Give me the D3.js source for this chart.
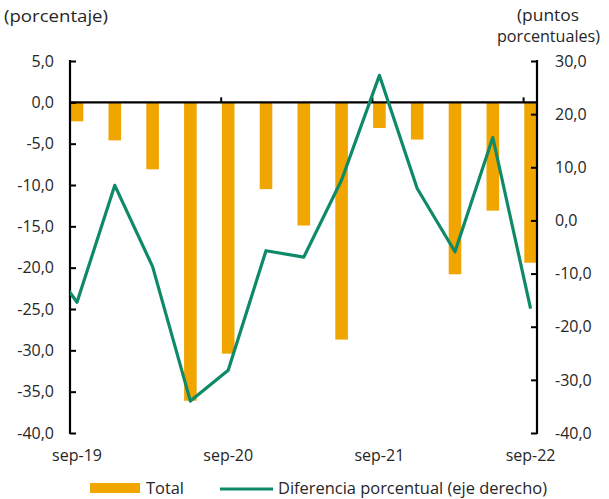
<!DOCTYPE html>
<html>
<head>
<meta charset="utf-8">
<script src="https://cdn.jsdelivr.net/npm/d3@7"></script>
<style>
  html, body { margin: 0; padding: 0; background: #ffffff; }
  svg { display: block; }
  text { font-family: "Open Sans", "Lato", sans-serif; fill: #262626; }
</style>
</head>
<body>
<div id="chart"></div>
<script>
// ---- data ----
const categories = ["sep-19","dic-19","mar-20","jun-20","sep-20","dic-20","mar-21","jun-21","sep-21","dic-21","mar-22","jun-22","sep-22"];
const totalValues = [-2.3, -4.6, -8.1, -36.1, -30.4, -10.5, -14.9, -28.7, -3.1, -4.5, -20.8, -13.1, -19.4];
const prevCategory = "jun-19";      // previous quarter, only partly visible at the left edge
const prevDiff = -5.5;
const diffValues = [-15.4, 6.6, -8.7, -34.0, -28.2, -5.7, -6.9, 7.6, 27.3, 6.0, -5.9, 15.6, -16.6];
const xTickLabels = ["sep-19","sep-20","sep-21","sep-22"];
const leftTicks = [5,0,-5,-10,-15,-20,-25,-30,-35,-40];
const rightTicks = [30,20,10,0,-10,-20,-30,-40];

// ---- layout ----
const W = 609, H = 499;
const plotLeft = 70, plotRight = 537, plotTop = 61, plotBottom = 433;
const barW = 12.6;
const FS = 16;

const svg = d3.select("#chart").append("svg").attr("width", W).attr("height", H);

const allCats = [prevCategory].concat(categories);
const x = d3.scalePoint().domain(allCats).range([77 - 37.8, 530.6]);
const yL = d3.scaleLinear().domain([-40, 5]).range([plotBottom, plotTop]);
const yR = d3.scaleLinear().domain([-40, 30]).range([plotBottom, plotTop]);
const fmt = v => d3.format(".1f")(v).replace(".", ",").replace("−", "-");

svg.append("defs").append("clipPath").attr("id", "plotClip")
  .append("rect").attr("x", plotLeft).attr("y", 0).attr("width", plotRight - plotLeft).attr("height", H);

// bars
svg.append("g").selectAll("rect").data(categories).join("rect")
  .attr("x", d => x(d) - barW / 2)
  .attr("y", (d, i) => yL(Math.max(0, totalValues[i])))
  .attr("width", barW)
  .attr("height", (d, i) => Math.abs(yL(totalValues[i]) - yL(0)))
  .attr("fill", "#F0A500");

// left axis
const gL = svg.append("g").attr("transform", `translate(${plotLeft},0)`)
  .call(d3.axisRight(yL).tickValues(leftTicks).tickSize(6).tickFormat(""));
gL.select(".domain").remove();
gL.selectAll(".tick line").attr("stroke", "#000").attr("stroke-width", 2);
svg.append("line").attr("x1", plotLeft).attr("x2", plotLeft).attr("y1", plotTop - 1).attr("y2", plotBottom + 1)
  .attr("stroke", "#000").attr("stroke-width", 2.2);
svg.append("g").selectAll("text").data(leftTicks).join("text")
  .attr("x", 54).attr("y", d => yL(d)).attr("dy", "0.36em")
  .attr("text-anchor", "end").attr("font-size", FS).text(fmt);

// right axis
const gR = svg.append("g").attr("transform", `translate(${plotRight},0)`)
  .call(d3.axisLeft(yR).tickValues(rightTicks).tickSize(6).tickFormat(""));
gR.select(".domain").remove();
gR.selectAll(".tick line").attr("stroke", "#000").attr("stroke-width", 2);
svg.append("line").attr("x1", plotRight).attr("x2", plotRight).attr("y1", plotTop - 1).attr("y2", plotBottom + 1)
  .attr("stroke", "#000").attr("stroke-width", 2.2);
svg.append("g").selectAll("text").data(rightTicks).join("text")
  .attr("x", 555).attr("y", d => yR(d)).attr("dy", "0.36em")
  .attr("text-anchor", "start").attr("font-size", FS).text(fmt);

// x axis at zero
svg.append("line").attr("x1", plotLeft).attr("x2", plotRight).attr("y1", yL(0)).attr("y2", yL(0))
  .attr("stroke", "#000").attr("stroke-width", 2.2);
svg.append("g").selectAll("line").data(xTickLabels.slice(1)).join("line")
  .attr("x1", d => x(d) - 7).attr("x2", d => x(d) - 7)
  .attr("y1", yL(0)).attr("y2", yL(0) - 5)
  .attr("stroke", "#000").attr("stroke-width", 2);
svg.append("g").selectAll("text").data(xTickLabels).join("text")
  .attr("x", d => x(d)).attr("y", 461)
  .attr("text-anchor", "middle").attr("font-size", FS).text(d => d);

// line (right axis)
const linePts = [[prevCategory, prevDiff]].concat(categories.map((c, i) => [c, diffValues[i]]));
svg.append("path").datum(linePts)
  .attr("clip-path", "url(#plotClip)")
  .attr("d", d3.line().x(d => x(d[0])).y(d => yR(d[1])))
  .attr("fill", "none").attr("stroke", "#0E8A68").attr("stroke-width", 3.2)
  .attr("stroke-linejoin", "round");

// axis titles
svg.append("text").attr("x", 4).attr("y", 22).attr("font-size", FS)
  .attr("textLength", 104).attr("lengthAdjust", "spacingAndGlyphs").text("(porcentaje)");
svg.append("text").attr("x", 517).attr("y", 21).attr("font-size", FS)
  .attr("textLength", 62).attr("lengthAdjust", "spacingAndGlyphs").text("(puntos");
svg.append("text").attr("x", 497).attr("y", 42).attr("font-size", FS)
  .attr("textLength", 103).attr("lengthAdjust", "spacingAndGlyphs").text("porcentuales)");

// legend
const lg = svg.append("g");
lg.append("rect").attr("x", 90).attr("y", 483).attr("width", 50).attr("height", 10).attr("fill", "#F0A500");
lg.append("text").attr("x", 146).attr("y", 494).attr("font-size", FS)
  .attr("textLength", 38).attr("lengthAdjust", "spacingAndGlyphs").text("Total");
lg.append("line").attr("x1", 220).attr("x2", 273).attr("y1", 489).attr("y2", 489)
  .attr("stroke", "#0E8A68").attr("stroke-width", 3.2);
lg.append("text").attr("x", 278).attr("y", 494).attr("font-size", FS)
  .attr("textLength", 269).attr("lengthAdjust", "spacingAndGlyphs").text("Diferencia porcentual (eje derecho)");
</script>
</body>
</html>
